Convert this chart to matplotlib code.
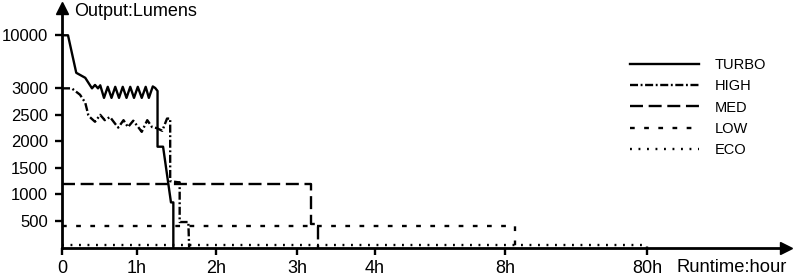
import matplotlib.pyplot as plt
import numpy as np

plt.rcParams['font.family'] = ['Liberation Sans', 'DejaVu Sans']

# axis ticks
x_ticks = [0, 1, 2, 3, 4, 8, 80]
x_labels = ['0', '1h', '2h', '3h', '4h', '8h', '80h']
y_ticks = [500, 1000, 1500, 2000, 2500, 3000, 10000]

# runtime curves (hours, lumens)
turbo_t = [0, 0.08, 0.19, 0.31, 0.37, 0.40, 0.44, 0.48, 0.51, 0.56, 0.61, 0.66, 0.71,
           0.76, 0.81, 0.86, 0.91, 0.96, 1.01, 1.06, 1.11, 1.15, 1.20, 1.23, 1.26,
           1.26, 1.33, 1.43, 1.46, 1.46]
turbo_v = [10000, 10000, 5050, 4390, 3460, 3000, 3450, 3000, 3400, 2820, 3200, 2820, 3200,
           2820, 3200, 2820, 3200, 2820, 3200, 2820, 3200, 2820, 3250, 3050, 2950,
           1900, 1900, 850, 850, 0]

high_t = [0, 0.13, 0.24, 0.31, 0.35, 0.37, 0.44, 0.51, 0.57, 0.64, 0.71, 0.75, 0.82,
          0.88, 0.95, 1.01, 1.06, 1.13, 1.19, 1.25, 1.32, 1.38, 1.42, 1.42, 1.52,
          1.54, 1.54, 1.65, 1.66]
high_v = [3000, 3000, 2880, 2730, 2500, 2460, 2370, 2500, 2400, 2460, 2330, 2260, 2400,
          2270, 2390, 2280, 2180, 2400, 2270, 2250, 2200, 2430, 2430, 1250, 1230,
          1230, 480, 480, 0]

med_t = [0, 3.18, 3.18, 3.27, 3.27]
med_v = [1200, 1200, 450, 450, 0]

low_t = [0, 13, 13]
low_v = [400, 400, 0]

eco_t = [0, 80, 80]
eco_v = [50, 50, 0]

# broken time axis: hours -> position
kn_h = [0, 1, 2, 3, 4, 8, 80, 160]
kn_u = [0, 75, 154, 235, 313, 443, 585, 724]


def xf(h):
    return np.interp(h, kn_h, kn_u)


def xi(u):
    return np.interp(u, kn_u, kn_h)


# compressed lumen axis above 3000
def yf(v):
    v = np.asarray(v, dtype=float)
    return np.where(v <= 3000, v, 3000 + (v - 3000) / 7.0)


def yi(u):
    u = np.asarray(u, dtype=float)
    return np.where(u <= 3000, u, 3000 + (u - 3000) * 7.0)


fig = plt.figure(figsize=(7.95, 2.76), dpi=100)
ax = fig.add_axes([62 / 795, 28.5 / 276, 724 / 795, 239.5 / 276])
ax.set_xscale('function', functions=(xf, xi))
ax.set_yscale('function', functions=(yf, yi))

lw = 1.7
ax.plot(turbo_t, turbo_v, color='black', lw=lw, ls='-', label='TURBO')
ax.plot(high_t, high_v, color='black', lw=lw, ls=(0, (3.4, 1.1, 0.8, 1.1)), label='HIGH')
ax.plot(med_t, med_v, color='black', lw=lw, ls=(0, (5.5, 2.4)), label='MED')
ax.plot(low_t, low_v, color='black', lw=lw, ls=(0, (2.0, 4.0)), label='LOW')
ax.plot(eco_t, eco_v, color='black', lw=lw, ls=(0, (0.8, 2.8)), label='ECO')

ax.set_xlim(0, 160)
ax.set_ylim(0, 13600)

ax.set_xticks(x_ticks)
ax.set_xticklabels(x_labels)
ax.set_yticks(y_ticks)
ax.set_yticklabels([str(v) for v in y_ticks])
ax.minorticks_off()
ax.tick_params(axis='x', length=5, width=1.7, pad=4, labelsize=13)
ax.tick_params(axis='y', length=5, width=1.7, pad=5, labelsize=12)

for s in ['top', 'right']:
    ax.spines[s].set_visible(False)
for s in ['left', 'bottom']:
    ax.spines[s].set_linewidth(2)

# arrow heads
ax.plot(1, 0, '>k', ms=9, transform=ax.get_yaxis_transform(), clip_on=False)
ax.plot(0, 1, '^k', ms=9, transform=ax.get_xaxis_transform(), clip_on=False)

fig.text(74 / 795, 1 - 12 / 276, 'Output:Lumens', fontsize=13, va='center', ha='left')
fig.text(676 / 795, 1 - 268 / 276, 'Runtime:hour', fontsize=13.2, va='center', ha='left')

ax.legend(loc='upper left', bbox_to_anchor=(630 / 795, 1 - 58 / 276),
          bbox_transform=fig.transFigure, frameon=False, fontsize=10.5,
          handlelength=4.7, handletextpad=1.1, labelspacing=0.5, borderpad=0,
          borderaxespad=0)

fig.savefig('out.png', dpi=100)
